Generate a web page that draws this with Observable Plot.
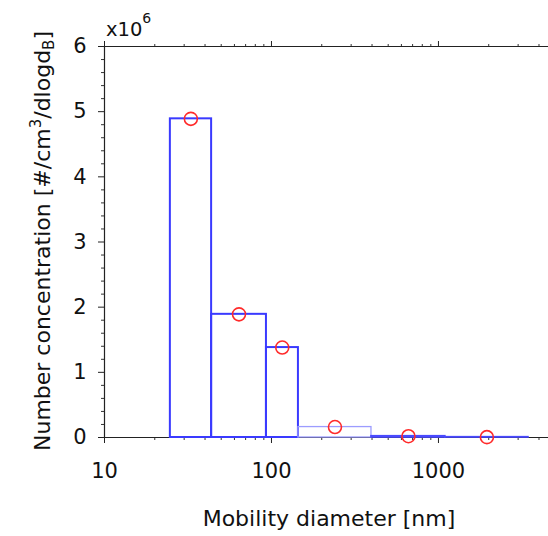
<!DOCTYPE html>
<html>
<head>
<meta charset="utf-8">
<script src="https://cdn.jsdelivr.net/npm/d3@7"></script>
<script src="https://cdn.jsdelivr.net/npm/@observablehq/plot@0.6"></script>
<style>
  html, body { margin: 0; padding: 0; background: #fff; }
  #chart { width: 548px; height: 536px; }
</style>
</head>
<body>
<div id="chart"></div>
<script>
// ---- data (number concentration in units of 1e6 #/cm^3/dlogdB) ----
const binLower = [24.8, 43.8, 93.3, 145, 397, 1100];
const binUpper = [43.8, 93.3, 145, 397, 1100, 3460];
const binMid = [32.9, 63.9, 116, 240, 661, 1950];
const concentration = [4.89, 1.89, 1.38, 0.16, 0.02, 0.005];
const binStyle = ["main", "main", "main", "light", "low", "low"];

const xMajorTicks = [10, 100, 1000];
const xMinorTicks = [20, 30, 40, 50, 60, 70, 80, 90, 200, 300, 400, 500, 600, 700, 800, 900, 2000, 3000, 4000];
const yMajorTicks = [0, 1, 2, 3, 4, 5, 6];
const yMinorTicks = [0.2,0.4,0.6,0.8,1.2,1.4,1.6,1.8,2.2,2.4,2.6,2.8,3.2,3.4,3.6,3.8,4.2,4.4,4.6,4.8,5.2,5.4,5.6,5.8];

const xLabel = "Mobility diameter [nm]";
const yLabelParts = ["Number concentration [#/cm", "3", "/dlogd", "B", "]"];
const exponentParts = ["x10", "6"];

const bins = binLower.map((lo, i) => ({lo, hi: binUpper[i], mid: binMid[i], v: concentration[i], s: binStyle[i]}));

const strokeFor = {main: "#3a3aff", light: "#9c9cff", low: "#4a4aff"};
const widthFor = {main: 2, light: 1.3, low: 1.6};

const FONT = "DejaVu Sans";

const plot = Plot.plot({
  width: 548,
  height: 536,
  marginLeft: 104,
  marginRight: 0,
  marginTop: 46,
  marginBottom: 99,
  style: {fontFamily: FONT, fontSize: "21px", background: "#fff", color: "#111"},
  x: {type: "log", domain: [10, 4560]},
  y: {domain: [0, 6]},
  marks: [
    Plot.axisX({ticks: xMajorTicks, tickFormat: d => String(d), tickSize: 6, tickPadding: 20, label: null, fontSize: 21, stroke: "#222"}),
    Plot.axisX({ticks: xMinorTicks, tickFormat: () => "", tickSize: 3, label: null, stroke: "#333"}),
    Plot.axisX({anchor: "top", ticks: xMajorTicks, tickFormat: () => "", tickSize: 6, label: null, stroke: "#222"}),
    Plot.axisX({anchor: "top", ticks: xMinorTicks, tickFormat: () => "", tickSize: 3, label: null, stroke: "#333"}),
    Plot.axisY({ticks: yMajorTicks, tickFormat: d => String(d), tickSize: 6, tickPadding: 12, label: null, fontSize: 21, stroke: "#222"}),
    Plot.axisY({ticks: yMinorTicks, tickFormat: () => "", tickSize: 3, label: null, stroke: "#333"}),
    Plot.ruleX([10], {stroke: "#222", strokeWidth: 1.2}),
    Plot.ruleY([0, 6], {stroke: "#222", strokeWidth: 1.2}),
    Plot.rect(bins, {
      x1: "lo", x2: "hi", y1: 0, y2: "v",
      fill: "none",
      stroke: d => strokeFor[d.s],
      strokeWidth: d => widthFor[d.s]
    }),
    Plot.dot(bins, {x: "mid", y: "v", r: 6.5, stroke: "#ff2a2a", strokeWidth: 1.6, fill: "none"})
  ]
});

document.getElementById("chart").appendChild(plot);

const svg = d3.select(plot);
// x axis title
svg.append("text")
  .attr("x", 329).attr("y", 526)
  .attr("text-anchor", "middle")
  .attr("font-family", FONT).attr("font-size", 22).attr("fill", "#111")
  .text(xLabel);

// y axis title with superscript / subscript
const yl = svg.append("text")
  .attr("transform", "translate(50,241) rotate(-90)")
  .attr("text-anchor", "middle")
  .attr("font-family", FONT).attr("font-size", 22).attr("fill", "#111");
yl.append("tspan").text(yLabelParts[0]);
yl.append("tspan").attr("font-size", 15).attr("dy", -9).text(yLabelParts[1]);
yl.append("tspan").attr("dy", 9).text(yLabelParts[2]);
yl.append("tspan").attr("font-size", 15).attr("dy", 4).text(yLabelParts[3]);
yl.append("tspan").attr("dy", -4).text(yLabelParts[4]);

// exponent annotation
const ex = svg.append("text")
  .attr("x", 106).attr("y", 36)
  .attr("text-anchor", "start")
  .attr("font-family", FONT).attr("font-size", 19.5).attr("fill", "#111");
ex.append("tspan").text(exponentParts[0]);
ex.append("tspan").attr("font-size", 14).attr("dy", -13).text(exponentParts[1]);
</script>
</body>
</html>
